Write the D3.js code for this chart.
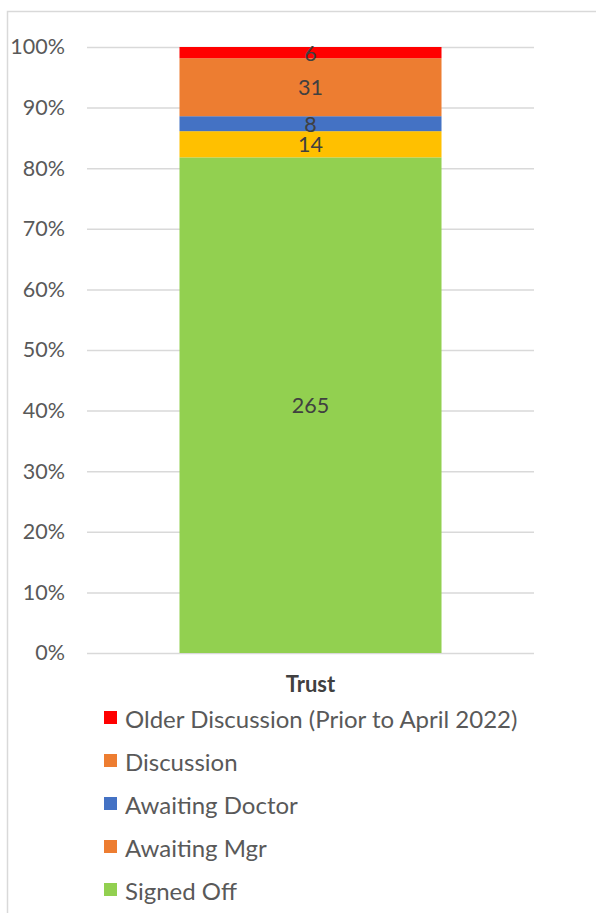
<!DOCTYPE html>
<html>
<head>
<meta charset="utf-8">
<script src="https://cdn.jsdelivr.net/npm/d3@7"></script>
<style>
  html, body { margin: 0; padding: 0; background: #fff; }
  svg { display: block; }
  text { font-family: Lato, "Open Sans", sans-serif; }
</style>
</head>
<body>
<svg id="chart" width="596" height="913"></svg>
<script>
// Status counts for the single "Trust" column (stacked bottom to top)
const categories = ["Trust"];
const seriesNames = ["Signed Off", "Awaiting Mgr", "Awaiting Doctor", "Discussion", "Older Discussion (Prior to April 2022)"];
const seriesValues = [265, 14, 8, 31, 6];
const seriesColors = ["#92D050", "#FFC000", "#4472C4", "#ED7D31", "#FF0000"];
// Legend lists the series top to bottom with its own swatch colours
const legendNames = ["Older Discussion (Prior to April 2022)", "Discussion", "Awaiting Doctor", "Awaiting Mgr", "Signed Off"];
const legendColors = ["#FF0000", "#ED7D31", "#4472C4", "#ED7D31", "#92D050"];
const yTicks = [0, 0.1, 0.2, 0.3, 0.4, 0.5, 0.6, 0.7, 0.8, 0.9, 1.0];

const FONT = "Lato, 'Open Sans', sans-serif";
const svg = d3.select("#chart");

// Chart frame
svg.append("path")
  .attr("d", "M7.5,913 V11.5 H596")
  .attr("fill", "none")
  .attr("stroke", "#d9d9d9")
  .attr("stroke-width", 1.5);

const plot = { left: 87, right: 534, top: 47, bottom: 653 };

const y = d3.scaleLinear().domain([0, 1]).range([plot.bottom, plot.top]);
const x = d3.scaleBand().domain(categories).range([plot.left, plot.right]).paddingInner(0).paddingOuter(0.353);

// Gridlines
svg.append("g")
  .selectAll("line")
  .data(yTicks)
  .join("line")
  .attr("x1", plot.left)
  .attr("x2", plot.right)
  .attr("y1", d => y(d) + 0.5)
  .attr("y2", d => y(d) + 0.5)
  .attr("stroke", "#d9d9d9")
  .attr("stroke-width", 1.5);

// Y axis labels
const yAxis = d3.axisLeft(y).tickValues(yTicks).tickFormat(d3.format(".0%")).tickSize(0).tickPadding(0);
const yg = svg.append("g").attr("transform", `translate(${65},0)`).call(yAxis);
yg.select(".domain").remove();
yg.selectAll("text")
  .attr("fill", "#595959")
  .style("font-size", "21.5px")
  .style("font-family", FONT);

// Stack the series as shares of the total
const total = d3.sum(seriesValues);
let acc = 0;
const segments = seriesValues.map((v, i) => {
  const s = { name: seriesNames[i], value: v, color: seriesColors[i], y0: acc / total, y1: (acc + v) / total };
  acc += v;
  return s;
});

const bars = svg.append("g");
bars.selectAll("rect")
  .data(segments)
  .join("rect")
  .attr("x", x("Trust"))
  .attr("width", x.bandwidth())
  .attr("y", d => y(d.y1))
  .attr("height", d => y(d.y0) - y(d.y1))
  .attr("fill", d => d.color);

bars.selectAll("text")
  .data(segments)
  .join("text")
  .attr("x", x("Trust") + x.bandwidth() / 2)
  .attr("y", d => (y(d.y0) + y(d.y1)) / 2)
  .attr("text-anchor", "middle")
  .attr("dominant-baseline", "central")
  .attr("fill", "#404040")
  .style("font-size", "21.5px")
  .text(d => d.value);

// X axis category label
const xAxis = d3.axisBottom(x).tickSize(0).tickPadding(0);
const xg = svg.append("g").attr("transform", `translate(0,${plot.bottom + 31})`).call(xAxis);
xg.select(".domain").remove();
xg.selectAll("text")
  .attr("fill", "#404040")
  .attr("dy", "0.35em")
  .style("font-size", "22px")
  .style("font-weight", "bold")
  .style("font-family", FONT);

// Legend
const legend = svg.append("g");
const rows = legend.selectAll("g")
  .data(legendNames)
  .join("g")
  .attr("transform", (d, i) => `translate(104,${718 + i * 43})`);
rows.append("rect")
  .attr("x", 0)
  .attr("y", -7)
  .attr("width", 13)
  .attr("height", 13)
  .attr("fill", (d, i) => legendColors[i]);
rows.append("text")
  .attr("x", 21)
  .attr("y", 0)
  .attr("dominant-baseline", "central")
  .attr("fill", "#595959")
  .style("font-size", "24px")
  .text(d => d);
</script>
</body>
</html>
